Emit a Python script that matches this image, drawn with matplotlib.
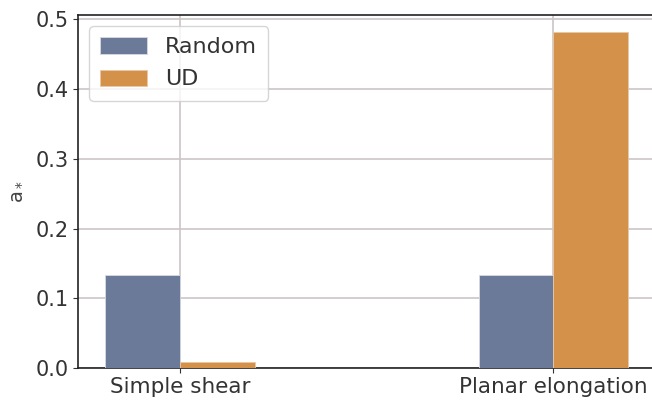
import numpy as np
import matplotlib.pyplot as plt

categories = ['Simple shear', 'Planar elongation']
random_vals = [0.133, 0.133]
ud_vals = [0.009, 0.482]

plt.rcParams['text.color'] = '#333333'
plt.rcParams['xtick.color'] = '#333333'
plt.rcParams['ytick.color'] = '#333333'

fig = plt.figure(figsize=(6.52, 4.0), dpi=100)
ax = fig.add_axes([0.12, 0.08, 0.885, 0.8825])

x = np.arange(len(categories))
w = 0.2
ax.bar(x - w / 2, random_vals, w, color='#6b7a99', edgecolor='#d8d8e0', linewidth=0.6, label='Random', zorder=3)
ax.bar(x + w / 2, ud_vals, w, color='#d4914a', edgecolor='#e8c8a8', linewidth=0.6, label='UD', zorder=3)

ax.set_xticks(x)
ax.set_xticklabels(categories, fontsize=15.5)
ax.set_xlim(-0.273, 1.273)
ax.set_yticks([0.0, 0.1, 0.2, 0.3, 0.4, 0.5])
ax.tick_params(axis='y', labelsize=15)
ax.tick_params(axis='x', pad=3)
ax.set_ylabel(r'a$_*$', fontsize=14, color='#444444', labelpad=8)
ax.grid(True, color='#cdc5c5', linewidth=1.2, zorder=0)
ax.set_axisbelow(True)
for s in ax.spines.values():
    s.set_color('#222222')
    s.set_linewidth(1.2)

ax.legend(loc='upper left', fontsize=16, handlelength=2.1, handleheight=0.75,
          edgecolor='#cccccc', borderpad=0.5, labelspacing=0.55)

fig.savefig('out.png', dpi=100)
